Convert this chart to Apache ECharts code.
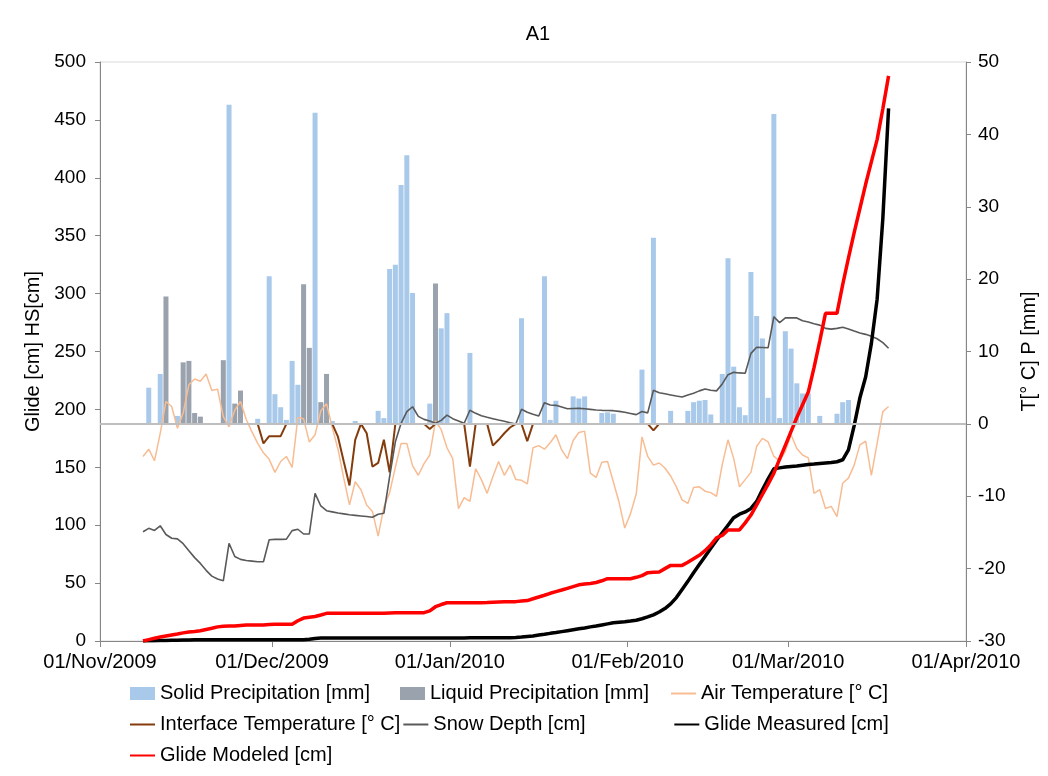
<!DOCTYPE html>
<html><head><meta charset="utf-8">
<script src="https://cdn.jsdelivr.net/npm/echarts@6/dist/echarts.min.js"></script>
<style>html,body{margin:0;padding:0;background:#fff}#c{width:1048px;height:776px}</style>
</head><body><div id="c"></div>
<script>
// first data day: 08/Nov/2009, daily values
const firstDay = [2009, 10, 8];
const tickDates = [[2009,10,1],[2009,11,1],[2010,0,1],[2010,1,1],[2010,2,1],[2010,3,1]];
const monthNames = ['Jan','Feb','Mar','Apr','May','Jun','Jul','Aug','Sep','Oct','Nov','Dec'];
const legendNames = ['Solid Precipitation [mm]','Liquid Precipitation [mm]','Air Temperature [° C]','Interface Temperature [° C]','Snow Depth [cm]','Glide Measured [cm]','Glide Modeled [cm]'];

const solidPrecip = [0,5.0,0,6.9,0,0,1.1,0,0,0, 0,0,0,0,0,44.1,0,0,0,0, 0.7,0,20.4,4.1,2.3,0.55,8.7,5.4,0,0, 43.0,0,0,0.4,0,0,0,0.4,0,0, 0,1.8,0.8,21.4,22.0,33.0,37.1,18.1,0,0, 2.8,0,13.2,15.3,0,0,0,9.8,0,0, 0,0,0,0,0,0,14.6,0,0,0, 20.4,0.55,3.2,0,0,3.8,3.5,3.8,0,0, 1.5,1.6,1.4,0,0,0,0,7.5,0,25.7, 0,0,1.8,0,0,1.8,3.0,3.2,3.3,1.3, 0,6.9,22.9,7.9,2.3,1.2,21.0,14.9,11.8,3.6, 42.8,0.8,12.8,10.4,5.6,4.2,4.2,0,1.1,0, 0,1.4,3.0,3.3,0,0,0,0,0,0, 0];
const liquidPrecip = [0,0,0,0,17.6,0,0,8.5,8.7,1.5, 1.0,0,0,0,8.8,0,2.8,4.6,0,0, 0,0,0,0,0,0,0,0,19.3,10.5, 0,3.0,6.9,0,0,0,0,0,0,0, 0,0,0,0,0,0,0,0,0,0, 0,19.4,0,0,0,0,0,0,0,0, 0,0,0,0,0,0,0,0,0,0, 0,0,0,0,0,0,0,0,0,0, 0,0,0,0,0,0,0,0,0,0, 0,0,0,0,0,0,0,0,0,0, 0,0,0,0,0,0,0,0,0,0, 0,0,0,0,0,0,0,0,0,0, 0,0,0,0,0,0,0,0,0,0, 0];
const airTemp = [-4.5,-3.5,-5.1,-1.3,3.1,2.4,-0.6,1.5,5.4,6.2, 5.9,6.9,4.6,4.8,1.0,-0.4,1.9,3.1,0.6,-1.1, -2.7,-4.0,-4.9,-6.7,-5.2,-4.5,-6.0,0.9,0.7,-2.5, -1.5,1.8,2.8,-0.5,-3.5,-7.5,-11.2,-8.0,-9.1,-11.2, -12.1,-15.5,-11.5,-9.5,-6.0,-2.7,-2.7,-5.8,-7.1,-5.5, -4.3,0.4,-0.8,-3.3,-4.8,-11.7,-10.2,-10.7,-6.2,-7.7, -9.6,-7.3,-5.2,-7.1,-5.7,-7.7,-7.8,-8.3,-3.3,-3.0, -3.5,-2.6,-1.5,-3.6,-4.8,-2.3,-1.2,-1.0,-6.8,-7.4, -5.3,-5.2,-8.0,-10.8,-14.4,-12.4,-9.7,-1.8,-4.5,-5.7, -5.4,-6.1,-7.2,-8.7,-10.5,-11.0,-8.8,-8.7,-9.3,-9.5, -10.0,-5.6,-2.2,-4.8,-8.7,-7.7,-6.7,-3.1,-2.0,-2.5, -4.5,-5.1,-3.8,-1.5,-3.4,-4.3,-4.7,-9.6,-9.1,-11.7, -11.4,-12.8,-8.2,-7.5,-5.7,-2.9,-2.4,-7.1,-2.7,1.7, 2.4];
const interfaceTemp = [0,0,0,0,0,0,0,0,0,0, 0,0,0,0,0,0,0,0,0,0, 0,-2.7,-1.7,-1.7,-1.7,0,0,0,0,0, 0,0,0,0,-1.8,-5.2,-8.5,-2.2,0,-1.3, -5.9,-5.4,-2.2,-6.7,0,0,0,0,0,0, -0.7,0,0,0,0,0,0,-5.9,0,0, 0,-3.0,-2.2,-1.3,-0.5,0,0,-2.4,0,0, 0,0,0,0,0,0,0,0,0,0, 0,0,0,0,0,0,0,0,0,-0.9, 0,0,0,0,0,0,0,0,0,0, 0,0,0,0,0,0,0,0,0,0, 0,0,0,0,0,0,0,0,0,0, 0,0,0,0,0,0,0,0,0,0, 0];
const snowDepth = [94.4,97.3,95.5,99.5,92,88.7,88.2,84,78,72, 67,61,56,53.5,52,84.4,73,70.5,69.5,69, 68.5,68.5,87.5,87.8,87.8,88,95.3,96.5,92.4,92.4, 127.5,116.6,112.5,111.5,110.5,109.8,109,108.5,108,107.5, 106.8,109.5,110.3,142,172,188,198,202.3,194,191.4, 190,188,190.5,195,192,190,188,199.3,196.6,194.5, 193.2,192,190.8,189.8,188.5,187.4,200.1,197.5,195.8,194.3, 205.8,203.8,203.5,202,200.5,200.8,200.9,200.5,200,199.5, 199.2,199,198.9,198.3,197.5,196.5,195.5,198.2,197,216.5, 214.4,213.5,212.5,211.5,210.7,212.5,214,216,217.6,216.5, 216,222,230,232,231.5,231.2,248.4,253.7,253.5,253.3, 280,274.9,279,279.2,279,276.5,275.5,274,272.8,270, 269.3,270,270.9,269.5,267.7,266,264.8,263.2,261,257.6, 252.8];
const glideMeasured = [0,0.2,0.3,0.4,0.5,0.6,0.7,0.8,0.9,1, 1,1,1,1,1,1,1,1,1,1, 1,1,1,1,1,1,1,1,1,1.5, 2.2,2.5,2.5,2.5,2.5,2.5,2.5,2.5,2.5,2.5, 2.5,2.5,2.5,2.5,2.5,2.5,2.5,2.5,2.5,2.5, 2.5,2.6,2.6,2.6,2.6,2.6,2.6,2.7,2.7,2.7, 2.7,2.7,2.8,2.8,2.8,3.0,3.4,3.9,4.4,5.1, 5.8,6.6,7.3,8.1,8.9,9.7,10.5,11.3,12.2,13.0, 13.9,14.8,15.7,16.2,16.6,17.2,17.9,19.2,20.8,22.6, 25,28,32,37.5,44.5,51.5,59,66,73,80, 87,93.5,100,106.5,109.5,111.5,114.5,120.5,130.5,140, 148.7,149.5,150.2,150.7,151.2,151.8,152.4,152.8,153.3,153.8, 154.2,154.8,156.5,165,186,210,228,257,295,365, 460];
const glideModeled = [0,1.2,2.4,3.4,4.3,5.2,6,7,7.8,8.3, 8.9,10,11,12.2,12.8,13,13,13.4,13.8,13.8, 13.8,13.8,14.2,14.4,14.4,14.4,14.4,17.5,19.8,20.5, 21.2,22.5,23.9,23.9,23.9,23.9,23.9,23.9,23.9,23.9, 23.9,23.9,23.9,24.2,24.5,24.5,24.5,24.5,24.5,24.5, 26,29.6,31.5,33,33.1,33.1,33.1,33.1,33.1,33.1, 33.2,33.4,33.6,33.8,34,34,34.5,34.9,36.5,38, 39.5,41.2,42.6,44,45.5,47,48.5,49.3,49.6,50.5, 52,53.8,53.8,53.8,53.8,53.8,55,56.5,59,59.3, 59.6,62.5,65.3,65.3,65.3,68,71,74,78,83, 89,91.2,95.9,95.9,95.9,102,108.8,117.5,126.5,135.5, 145,157,169,181,193,204,215,236,259,283, 283,283,307.7,330.7,352.6,373.5,394.4,413.7,433,459.6, 488];

const days = solidPrecip.map((_, i) => new Date(firstDay[0], firstDay[1], firstDay[2] + i, 12).getTime());
const ticks = tickDates.map(d => new Date(d[0], d[1], d[2]).getTime());
const pair = arr => arr.map((v, i) => [days[i], v]);
const fmtDate = v => { const d = new Date(v); return String(d.getDate()).padStart(2,'0') + '/' + monthNames[d.getMonth()] + '/' + d.getFullYear(); };

const FONT = '"Liberation Sans", Arial, sans-serif';
const axisCol = '#868686';
const chart = echarts.init(document.getElementById('c'));
chart.setOption({
  animation: false,
  backgroundColor: '#fff',
  textStyle: { fontFamily: FONT },
  title: { text: 'A1', left: 533, textAlign: 'center', top: 19, textStyle: { fontSize: 20, fontWeight: 'normal', color: '#000', fontFamily: FONT } },
  grid: { left: 100, right: 82, top: 62, bottom: 135, containLabel: false, show: true, borderColor: '#D9D9D9', borderWidth: 1 },
  legend: {
    top: 674, left: 124, width: 830, itemGap: 2, itemWidth: 25, itemHeight: 13,
    textStyle: { fontSize: 20, color: '#000', width: 238, lineHeight: 29, fontFamily: FONT },
    data: legendNames.map((n, i) => i < 2 ? { name: n, icon: 'rect' } : { name: n, itemStyle: { opacity: 0 } })
  },
  xAxis: {
    type: 'value', min: ticks[0], max: ticks[ticks.length - 1],
    axisLine: { lineStyle: { color: axisCol, width: 1 } },
    axisTick: { show: true, customValues: ticks, length: 6, lineStyle: { color: axisCol } },
    axisLabel: { customValues: ticks, formatter: fmtDate, fontSize: 20, color: '#000', margin: 11, showMinLabel: true, showMaxLabel: true, hideOverlap: false },
    splitLine: { show: false }
  },
  yAxis: [
    { type: 'value', min: 0, max: 500, interval: 50, position: 'left',
      name: 'Glide [cm] HS[cm]', nameLocation: 'middle', nameGap: 54, nameTextStyle: { fontSize: 20, color: '#000' },
      axisLine: { show: true, lineStyle: { color: axisCol } }, axisTick: { show: true, length: 5, lineStyle: { color: axisCol } },
      axisLabel: { fontSize: 19, color: '#000', margin: 14 }, splitLine: { show: false } },
    { type: 'value', min: -30, max: 50, interval: 10, position: 'right',
      name: 'T[° C] P [mm]', nameLocation: 'middle', nameGap: 53, nameTextStyle: { fontSize: 20, color: '#000' },
      axisLine: { show: true, onZero: false, lineStyle: { color: axisCol } }, axisTick: { show: true, length: 5, lineStyle: { color: axisCol } },
      axisLabel: { fontSize: 19, color: '#000', margin: 12 }, splitLine: { show: false } }
  ],
  series: [
    { name: legendNames[0], type: 'bar', yAxisIndex: 1, data: pair(solidPrecip), barWidth: 5, barGap: '-100%', itemStyle: { color: '#A9C9EA' },
      markLine: { silent: true, symbol: 'none', label: { show: false }, data: [{ yAxis: 0 }], lineStyle: { color: '#BFBFBF', width: 2, type: 'solid' } } },
    { name: legendNames[1], type: 'bar', yAxisIndex: 1, data: pair(liquidPrecip), barWidth: 5, barGap: '-100%', itemStyle: { color: '#9AA2AD' } },
    { name: legendNames[2], type: 'line', yAxisIndex: 1, data: pair(airTemp), symbol: 'none', lineStyle: { color: '#F8BC93', width: 1.5 }, itemStyle: { color: '#F8BC93' } },
    { name: legendNames[3], type: 'line', yAxisIndex: 1, data: pair(interfaceTemp), symbol: 'none', lineStyle: { color: '#843C0C', width: 2 }, itemStyle: { color: '#843C0C' } },
    { name: legendNames[4], type: 'line', yAxisIndex: 0, data: pair(snowDepth), symbol: 'none', lineStyle: { color: '#595959', width: 1.6 }, itemStyle: { color: '#595959' } },
    { name: legendNames[5], type: 'line', yAxisIndex: 0, data: pair(glideMeasured), symbol: 'none', lineStyle: { color: '#000000', width: 3.5 }, itemStyle: { color: '#000000' } },
    { name: legendNames[6], type: 'line', yAxisIndex: 0, data: pair(glideModeled), symbol: 'none', lineStyle: { color: '#FF0000', width: 3.5 }, itemStyle: { color: '#FF0000' } }
  ]
});
</script></body></html>
